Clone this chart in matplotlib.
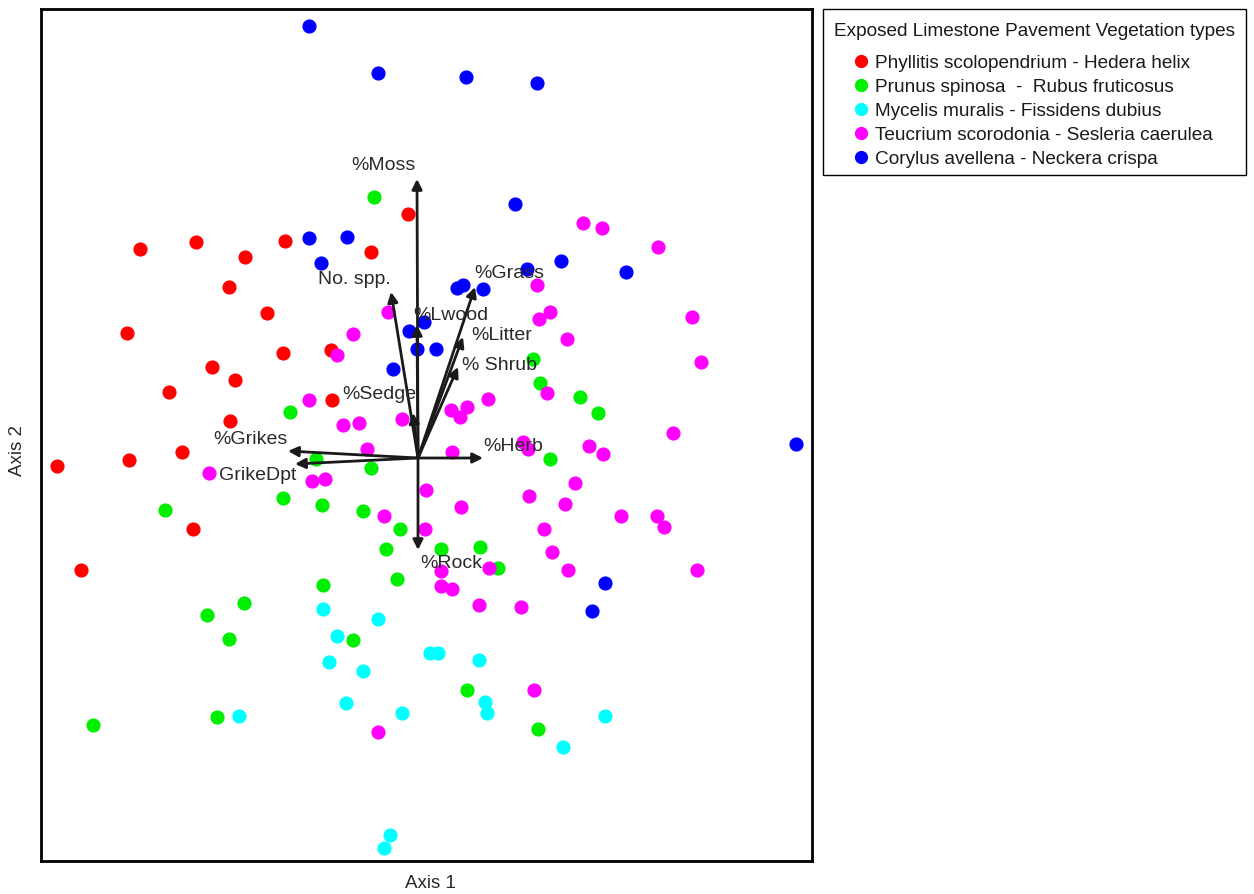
import matplotlib
matplotlib.use("Agg")
import matplotlib.pyplot as plt
from matplotlib.patches import Rectangle

plt.rcParams['font.family'] = ['Liberation Sans', 'DejaVu Sans']

# ---------------- data (ordination scores) ----------------
groups = ["Phyllitis scolopendrium - Hedera helix",
          "Prunus spinosa  -  Rubus fruticosus",
          "Mycelis muralis - Fissidens dubius",
          "Teucrium scorodonia - Sesleria caerulea",
          "Corylus avellena - Neckera crispa"]

phyllitis_x = [-0.10, -2.78, -2.22, -1.73, -1.33, -0.47, -1.89, -1.51, -2.91, -1.35, -0.87,
               -2.06, -1.83, -2.49, -0.86, -1.88, -2.36, -2.89, -3.61, -2.25, -3.37]
phyllitis_y = [2.44, 2.09, 2.16, 2.01, 2.17, 2.06, 1.71, 1.45, 1.25, 1.05, 1.08,
               0.91, 0.78, 0.66, 0.58, 0.37, 0.06, -0.02, -0.08, -0.71, -1.12]

prunus_x = [-0.44, 1.15, 1.22, 1.62, 1.80, -1.28, -1.02, -0.47, 1.32, -1.35, -0.96, -2.53,
            -0.55, -0.18, -0.32, 0.23, 0.62, 0.80, -0.21, -0.95, -1.74, -2.11, -1.89, -0.65,
            -2.01, -3.25, 0.49, 1.20]
prunus_y = [2.61, 0.99, 0.75, 0.61, 0.45, 0.46, -0.01, -0.10, -0.01, -0.40, -0.47, -0.52,
            -0.53, -0.71, -0.91, -0.91, -0.89, -1.10, -1.21, -1.27, -1.45, -1.57, -1.81, -1.82,
            -2.59, -2.67, -2.32, -2.71]

mycelis_x = [-0.95, -0.40, -0.81, 0.12, 0.20, 0.61, -0.89, -0.55, -0.72, -0.16, 0.67, 0.69,
             -1.79, 1.87, 1.45, -0.28, -0.34]
mycelis_y = [-1.51, -1.61, -1.78, -1.95, -1.95, -2.02, -2.04, -2.13, -2.45, -2.55, -2.44, -2.55,
             -2.58, -2.58, -2.89, -3.77, -3.90]

teucrium_x = [1.65, 1.84, 2.40, 1.19, 1.32, 1.21, 2.74, -0.30, -0.65, 1.49, -0.81, 2.83,
              1.29, 0.70, -1.09, 0.33, 0.49, 0.42, -0.16, -0.75, -0.59, 2.55, 1.05, 1.10,
              1.71, -0.51, 0.34, 1.85, -2.09, -1.06, -0.93, 1.57, 0.08, 1.11, 1.47, 0.43,
              -0.34, 2.03, 2.39, 2.46, 1.26, 0.07, 1.34, 1.50, 2.79, 0.71, 0.23, 0.23, 0.34,
              0.61, 1.03, 1.16, -0.40]
teucrium_y = [2.35, 2.30, 2.11, 1.73, 1.46, 1.39, 1.41, 1.46, 1.24, 1.19, 1.03, 0.96,
              0.65, 0.59, 0.58, 0.48, 0.51, 0.41, 0.39, 0.33, 0.35, 0.25, 0.16, 0.09,
              0.12, 0.09, 0.06, 0.04, -0.15, -0.23, -0.21, -0.25, -0.32, -0.38, -0.46, -0.49,
              -0.58, -0.58, -0.58, -0.69, -0.71, -0.71, -0.94, -1.12, -1.12, -1.10, -1.13, -1.28, -1.31,
              -1.47, -1.49, -2.32, -2.74]

corylus_x = [-1.09, -0.40, 0.48, 1.19, 0.97, -1.09, -0.71, -0.97, 1.43, 2.08, 1.09, 0.39,
             0.45, 0.65, -0.09, 0.06, -0.01, 0.18, -0.25, 3.78, 1.87, 1.74]
corylus_y = [4.32, 3.85, 3.81, 3.75, 2.54, 2.20, 2.21, 1.95, 1.97, 1.86, 1.89, 1.70,
             1.73, 1.69, 1.27, 1.36, 1.09, 1.09, 0.89, 0.14, -1.25, -1.53]

# environmental vectors (biplot arrows)
var_names = ["%Moss", "No. spp.", "%Grass", "%Lwood", "%Litter", "% Shrub",
             "%Sedge", "%Grikes", "GrikeDpt", "%Herb", "%Rock"]
var_x = [-0.01, -0.27, 0.57, -0.01, 0.45, 0.40, -0.05, -1.30, -1.23, 0.65, 0.00]
var_y = [2.79, 1.66, 1.71, 1.33, 1.21, 0.91, 0.45, 0.07, -0.06, 0.00, -0.92]

# ---------------- styling / layout ----------------
colors = ["#ff0000", "#00ee00", "#00ffff", "#ff00ff", "#0000ff"]
label_pos_x = [-0.67, -1.00, 0.56, -0.05, 0.53, 0.44, -0.76, -2.05, -1.99, 0.65, 0.02]
label_pos_y = [2.92, 1.78, 1.85, 1.42, 1.22, 0.92, 0.63, 0.18, -0.18, 0.11, -1.05]

W, H = 1254, 894
fig = plt.figure(figsize=(W / 100, H / 100), dpi=100)
ax = fig.add_axes([41 / W, (H - 861) / H, (812 - 41) / W, (861 - 9) / H])

series = [(phyllitis_x, phyllitis_y), (prunus_x, prunus_y), (mycelis_x, mycelis_y),
          (teucrium_x, teucrium_y), (corylus_x, corylus_y)]
handles = []
for (xs, ys), c, name in zip(series, colors, groups):
    h, = ax.plot(xs, ys, linestyle='none', marker='o', markersize=9.2,
                 markerfacecolor=c, markeredgecolor=c, label=name, zorder=2)
    handles.append(h)

for name, vx, vy, lx, ly in zip(var_names, var_x, var_y, label_pos_x, label_pos_y):
    ax.annotate('', xy=(vx, vy), xytext=(0, 0),
                arrowprops=dict(arrowstyle='-|>', color='#1a1a1a', lw=2.0,
                                mutation_scale=15, shrinkA=0, shrinkB=0),
                zorder=3)
    ax.text(lx, ly, name, fontsize=14, color='#2a2a2a', ha='left', va='center', zorder=4)

ax.set_xlim(-3.77, 3.94)
ax.set_ylim(-4.03, 4.49)
ax.set_xticks([])
ax.set_yticks([])
for s in ax.spines.values():
    s.set_linewidth(2.0)
    s.set_color('black')

fig.text(430 / W, 1 - 883 / H, "Axis 1", ha='center', va='center', fontsize=13.5, color='#2a2a2a')
fig.text(18 / W, 1 - 450 / H, "Axis 2", ha='center', va='center', fontsize=13.5,
         color='#2a2a2a', rotation=90)

# legend frame drawn explicitly
fig.patches.append(Rectangle((823 / W, 1 - 175 / H), (1246 - 823) / W, (175 - 9) / H,
                             transform=fig.transFigure, facecolor='white',
                             edgecolor='black', linewidth=1.0, zorder=0))

leg = fig.legend(handles=handles, labels=groups, loc='upper center',
                 bbox_to_anchor=(1034 / W, 1 - 9 / H), bbox_transform=fig.transFigure,
                 title="Exposed Limestone Pavement Vegetation types",
                 title_fontsize=13.7, fontsize=13.7, frameon=False,
                 borderpad=0.76, labelspacing=0.35,
                 handlelength=0.6, handletextpad=0.45, borderaxespad=0)
leg._legend_box.sep = 10.2
for h in leg.legend_handles:
    h.set_markersize(8.5)
for t in leg.get_texts():
    t.set_color('#1a1a1a')
leg.get_title().set_color('#1a1a1a')

fig.savefig("out.png", dpi=100)
